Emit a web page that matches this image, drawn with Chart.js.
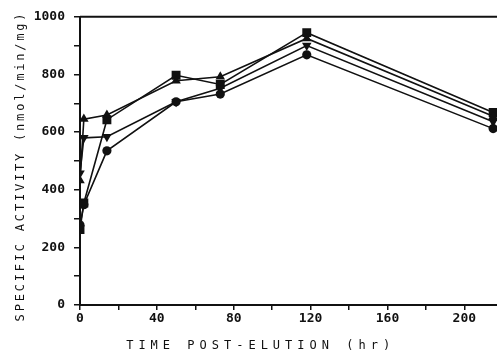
<!DOCTYPE html>
<html>
<head>
<meta charset="utf-8">
<script src="https://cdn.jsdelivr.net/npm/chart.js@4"></script>
<style>
  html, body { margin: 0; padding: 0; background: #fff; overflow: hidden; }
</style>
</head>
<body>
<canvas id="activityChart" width="497" height="354"></canvas>
<script>
const times = [0, 2, 14, 50, 73, 118, 215];
const squareSeries = [262, 354, 643, 797, 765, 945, 668];
const triUpSeries = [432, 645, 659, 778, 792, 925, 655];
const triDownSeries = [457, 580, 584, 705, 752, 900, 636];
const circleSeries = [278, 348, 535, 705, 732, 868, 612];

const yTicks = [0, 200, 400, 600, 800, 1000];
const xTicks = [0, 40, 80, 120, 160, 200];

const xTitle = "TIME POST-ELUTION (hr)";
const yTitle = "SPECIFIC ACTIVITY (nmol/min/mg)";

const ink = "#111";

function toPoints(values) {
  return values.map((v, i) => ({ x: times[i], y: v }));
}

function makeSet(values, style, radius, rotation) {
  return {
    data: toPoints(values),
    borderColor: ink,
    backgroundColor: ink,
    borderWidth: 1.6,
    pointStyle: style,
    pointRadius: radius,
    pointRotation: rotation || 0,
    pointBorderWidth: 0,
    pointBackgroundColor: ink,
    tension: 0,
  };
}

// top frame line + hand placed axis titles (plotter style spacing)
const plotFrame = {
  id: "plotFrame",
  afterDraw(chart) {
    const { ctx, chartArea, scales } = chart;
    ctx.save();
    ctx.strokeStyle = ink;
    ctx.lineWidth = 2;
    ctx.beginPath();
    ctx.moveTo(chartArea.left, chartArea.top);
    ctx.lineTo(chart.width, chartArea.top);
    ctx.stroke();

    ctx.fillStyle = ink;
    ctx.font = '12px "DejaVu Sans Mono"';
    ctx.textAlign = "center";
    ctx.textBaseline = "middle";
    ctx.letterSpacing = "5px";
    ctx.fillText(xTitle, scales.x.getPixelForValue(94), chartArea.bottom + 41);

    ctx.letterSpacing = "2.8px";
    ctx.translate(21, 166);
    ctx.rotate(-Math.PI / 2);
    ctx.fillText(yTitle, 0, 0);
    ctx.restore();
  },
};

new Chart(document.getElementById("activityChart"), {
  type: "line",
  data: {
    datasets: [
      makeSet(circleSeries, "circle", 4.6),
      makeSet(triDownSeries, "triangle", 5.5, 180),
      makeSet(triUpSeries, "triangle", 5.5),
      makeSet(squareSeries, "rect", 6.3),
    ],
  },
  options: {
    responsive: false,
    animation: false,
    layout: { autoPadding: false, padding: { top: 13, right: 0, left: 0, bottom: 0 } },
    plugins: {
      legend: { display: false },
      tooltip: { enabled: false },
    },
    scales: {
      x: {
        type: "linear",
        min: 0,
        max: 217,
        afterFit: (s) => { s.height = 49; s.paddingRight = 0; s.paddingLeft = 0; },
        border: { color: ink, width: 2 },
        grid: { drawOnChartArea: false, tickLength: 5, color: ink, lineWidth: 1.5 },
        ticks: {
          stepSize: 20,
          includeBounds: false,
          autoSkip: false,
          maxRotation: 0,
          padding: 1,
          color: ink,
          font: { family: '"DejaVu Sans Mono"', size: 13, weight: "bold" },
          callback: (v) => (xTicks.includes(v) ? v : ""),
        },
      },
      y: {
        min: 0,
        max: 1000,
        afterFit: (s) => { s.width = 80; },
        border: { color: ink, width: 2 },
        grid: { drawOnChartArea: false, tickLength: 6, color: ink, lineWidth: 1.5 },
        ticks: {
          stepSize: 100,
          autoSkip: false,
          padding: 9,
          color: ink,
          font: { family: '"DejaVu Sans Mono"', size: 13, weight: "bold" },
          callback: (v) => (yTicks.includes(v) ? v : ""),
        },
      },
    },
  },
  plugins: [plotFrame],
});
</script>
</body>
</html>
